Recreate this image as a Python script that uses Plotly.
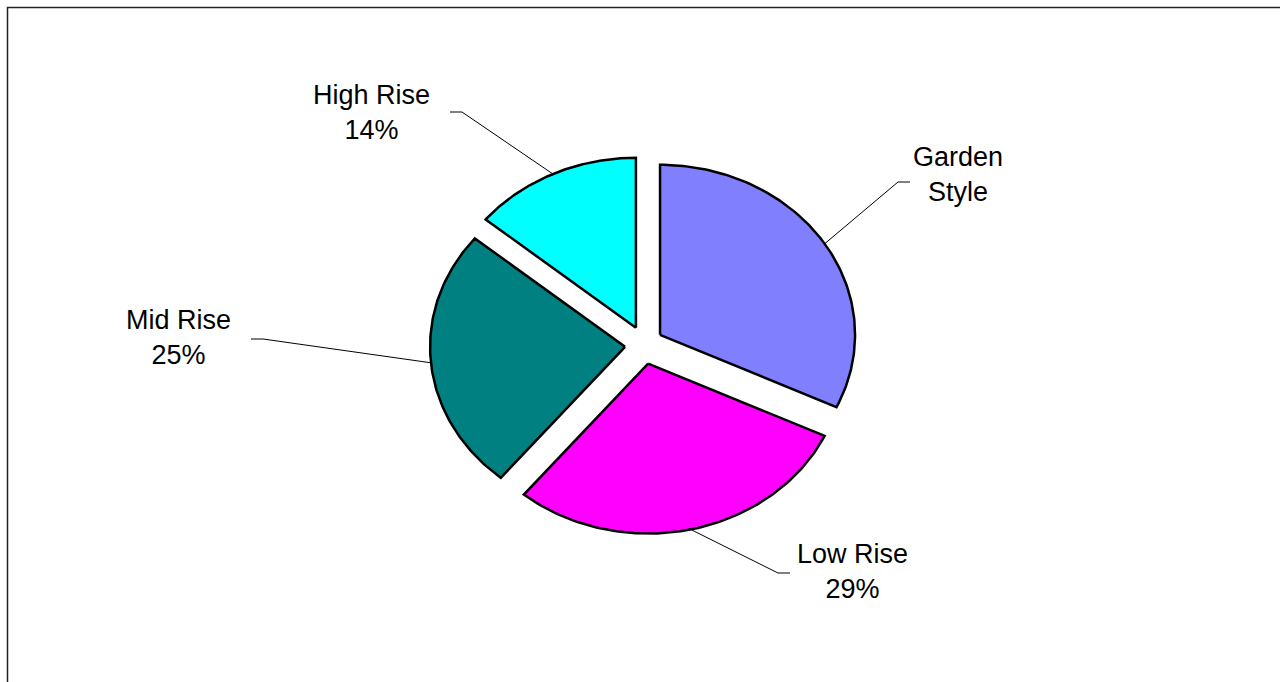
import numpy as np
import plotly.graph_objects as go

# Share of units by building type
categories = ["Garden Style", "Low Rise", "Mid Rise", "High Rise"]
shares = [32, 29, 25, 14]
show_pct = [False, True, True, True]
label_text = ["Garden<br>Style", "Low Rise", "Mid Rise", "High Rise"]
colors = ["#8080FF", "#FF00FF", "#008080", "#00FFFF"]

# Canvas geometry (pixel-like units)
W, H = 1280, 682
CX, CY = 644, 345          # pie centre
RX, RY = 195, 170          # pie radii
EXPLODE = 19               # slice offset
label_pos = [(958, 174), (852, 571), (178, 337), (371, 112)]
elbow_pos = [(898, 182), (778, 573), (263, 339), (462, 112)]
STUB = 12

fig = go.Figure()

total = sum(shares)
start = 0.0
annotations = []
for i, (name, val, col) in enumerate(zip(categories, shares, colors)):
    a0 = start / total * 2 * np.pi
    a1 = (start + val) / total * 2 * np.pi
    start += val
    mid = (a0 + a1) / 2
    ox = CX + EXPLODE * np.sin(mid)
    oy = CY - EXPLODE * np.cos(mid)
    t = np.linspace(a0, a1, 120)
    xs = np.concatenate([[ox], ox + RX * np.sin(t), [ox]])
    ys = np.concatenate([[oy], oy - RY * np.cos(t), [oy]])
    fig.add_trace(go.Scatter(
        x=xs, y=ys, mode="lines", fill="toself", fillcolor=col,
        line=dict(color="black", width=2.5), name=name, hoverinfo="name",
        showlegend=False,
    ))

    # leader line from slice edge to the label
    ex = ox + RX * np.sin(mid)
    ey = oy - RY * np.cos(mid)
    bx, by = elbow_pos[i]
    lx, ly = label_pos[i]
    sx = bx + (STUB if lx > bx else -STUB)
    fig.add_trace(go.Scatter(
        x=[ex, bx, sx], y=[ey, by, by], mode="lines",
        line=dict(color="black", width=1), hoverinfo="skip", showlegend=False,
    ))

    txt = label_text[i]
    if show_pct[i]:
        txt += "<br>%d%%" % round(val / total * 100)
    annotations.append(dict(
        x=lx, y=ly, xref="x", yref="y", text=txt, showarrow=False,
        xanchor="center", yanchor="middle", align="center",
        font=dict(family="Liberation Sans, Arial, sans-serif", size=27, color="black"),
    ))

# chart area frame
fig.add_shape(type="rect", xref="x", yref="y", x0=7.5, y0=7.5, x1=W + 20, y1=H + 20,
              line=dict(color="#222222", width=1.5), fillcolor="rgba(0,0,0,0)", layer="above")

fig.update_layout(
    width=W, height=H,
    margin=dict(l=0, r=0, t=0, b=0),
    paper_bgcolor="white", plot_bgcolor="white",
    xaxis=dict(range=[0, W], visible=False, fixedrange=True),
    yaxis=dict(range=[H, 0], visible=False, fixedrange=True),
    annotations=annotations,
    showlegend=False,
)

fig.write_html("out.html", config={"displayModeBar": False})
